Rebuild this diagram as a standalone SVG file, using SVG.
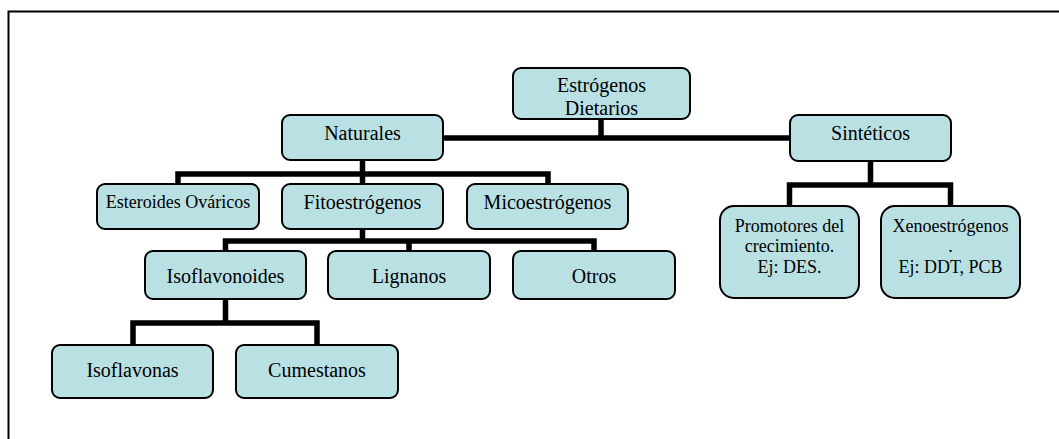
<svg xmlns="http://www.w3.org/2000/svg" width="1059" height="439" viewBox="0 0 1059 439">
<style>
.box{fill:#B9E0E3;stroke:#000;stroke-width:2}
.t{font-family:"Liberation Serif","Times New Roman",serif;font-size:20px;fill:#000;text-anchor:middle}
.s{font-size:18px}
.c{fill:none;stroke:#000;stroke-width:5.5;stroke-linejoin:miter;stroke-linecap:butt}
</style>
<rect x="0" y="0" width="1059" height="439" fill="#fff"/>
<rect x="8.5" y="11.5" width="1100" height="500" fill="none" stroke="#000" stroke-width="2"/>
<g id="connectors">
<path class="c" d="M601,119 V138 M443,138 H790"/>
<path class="c" d="M178,184 V174 H548 V184 M362.5,160 V184"/>
<path class="c" d="M225.5,251 V241 H594 V251 M362.5,229 V241 M409,241 V251"/>
<path class="c" d="M133,345 V323 H317 V345 M225.5,299 V323"/>
<path class="c" d="M789.5,206 V185 H950.5 V206 M870.5,161 V185"/>
</g>
<g id="n-estrogenos"><rect class="box" x="513" y="68" width="177" height="51" rx="8"/><text class="t" x="601.5" y="92">Estrógenos</text><text class="t" x="601.5" y="115">Dietarios</text></g>
<g id="n-naturales"><rect class="box" x="282" y="115" width="161" height="45" rx="8"/><text class="t" x="362.5" y="140">Naturales</text></g>
<g id="n-sinteticos"><rect class="box" x="790" y="115" width="161" height="46" rx="8"/><text class="t" x="870.5" y="140">Sintéticos</text></g>
<g id="n-esteroides"><rect class="box" x="97" y="184" width="162" height="45" rx="8"/><text class="t s" x="178" y="208">Esteroides Ováricos</text></g>
<g id="n-fito"><rect class="box" x="282" y="184" width="161" height="45" rx="8"/><text class="t" x="362.5" y="209">Fitoestrógenos</text></g>
<g id="n-mico"><rect class="box" x="467" y="184" width="161" height="45" rx="8"/><text class="t" x="547.5" y="209">Micoestrógenos</text></g>
<g id="n-isoflavonoides"><rect class="box" x="145" y="251" width="161" height="48" rx="8"/><text class="t" x="225.5" y="283">Isoflavonoides</text></g>
<g id="n-lignanos"><rect class="box" x="328" y="251" width="162" height="48" rx="8"/><text class="t" x="409" y="283">Lignanos</text></g>
<g id="n-otros"><rect class="box" x="513" y="251" width="162" height="48" rx="8"/><text class="t" x="594" y="283">Otros</text></g>
<g id="n-isoflavonas"><rect class="box" x="52" y="345" width="161" height="53" rx="8"/><text class="t" x="132.5" y="377">Isoflavonas</text></g>
<g id="n-cumestanos"><rect class="box" x="236" y="345" width="162" height="53" rx="8"/><text class="t" x="317" y="377">Cumestanos</text></g>
<g id="n-promotores"><rect class="box" x="720" y="206" width="139" height="92" rx="14"/><text class="t s" x="789.5" y="232">Promotores del</text><text class="t s" x="789.5" y="252">crecimiento.</text><text class="t s" x="789.5" y="272.5">Ej: DES.</text></g>
<g id="n-xeno"><rect class="box" x="881" y="206" width="139" height="92" rx="14"/><text class="t s" x="950.5" y="232">Xenoestrógenos</text><text class="t s" x="950.5" y="252">.</text><text class="t s" x="950.5" y="272.5">Ej: DDT, PCB</text></g>
</svg>
